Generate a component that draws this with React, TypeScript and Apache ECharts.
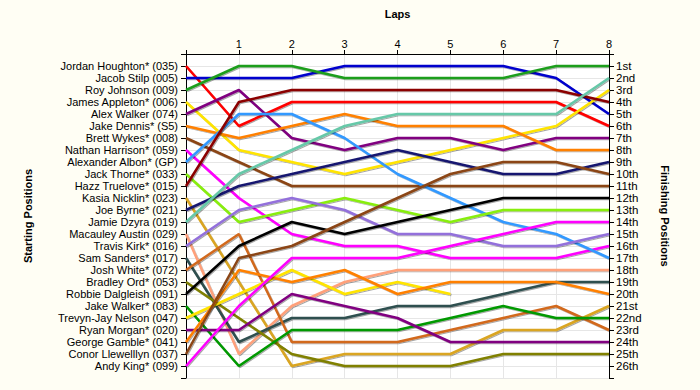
import React, { useEffect, useRef } from "react";
import * as echarts from "echarts";

const laps = [0, 1, 2, 3, 4, 5, 6, 7, 8];

const drivers = [
  "Jordan Houghton* (035)",
  "Jacob Stilp (005)",
  "Roy Johnson (009)",
  "James Appleton* (006)",
  "Alex Walker (074)",
  "Jake Dennis* (S5)",
  "Brett Wykes* (008)",
  "Nathan Harrison* (059)",
  "Alexander Albon* (GP)",
  "Jack Thorne* (033)",
  "Hazz Truelove* (015)",
  "Kasia Nicklin* (023)",
  "Joe Byrne* (021)",
  "Jamie Dzyra (019)",
  "Macauley Austin (029)",
  "Travis Kirk* (016)",
  "Sam Sanders* (017)",
  "Josh White* (072)",
  "Bradley Ord* (053)",
  "Robbie Dalgleish (091)",
  "Jake Walker* (083)",
  "Trevyn-Jay Nelson (047)",
  "Ryan Morgan* (020)",
  "George Gamble* (041)",
  "Conor Llewelllyn (037)",
  "Andy King* (099)",
];

const finishLabels = [
  "1st", "2nd", "3rd", "4th", "5th", "6th", "7th", "8th", "9th", "10th",
  "11th", "12th", "13th", "14th", "15th", "16th", "17th", "18th", "19th", "20th",
  "21st", "22nd", "23rd", "24th", "25th", "26th",
];

// positions per driver for laps 0..8
const positions: number[][] = [
  [1, 6, 4, 4, 4, 4, 4, 4, 6],
  [2, 2, 2, 1, 1, 1, 1, 2, 5],
  [3, 1, 1, 2, 2, 2, 2, 1, 1],
  [4, 8, 9, 10, 9, 8, 7, 6, 3],
  [5, 3, 7, 8, 7, 7, 8, 7, 7],
  [6, 7, 6, 5, 6, 6, 6, 8, 8],
  [7, 9, 11, 11, 11, 11, 11, 11, 11],
  [8, 12, 15, 16, 16, 17, 17, 17, 16],
  [9, 5, 5, 7, 10, 12, 14, 15, 17],
  [10, 14, 13, 12, 13, 14, 13, 13, 13],
  [11, 4, 3, 3, 3, 3, 3, 3, 4],
  [12, 19, 26, 25, 25, 25, 23, 23, 21],
  [13, 11, 10, 9, 8, 9, 10, 10, 9],
  [14, 10, 8, 6, 5, 5, 5, 5, 2],
  [15, 25, 21, 19, 18, 18, 18, 18, 18],
  [16, 13, 12, 13, 15, 15, 16, 16, 15],
  [17, 24, 22, 22, 21, 21, 20, 19, 19],
  [18, 15, 24, 24, 24, 23, 22, 21, 23],
  [19, 22, 25, 26, 26, 26, 25, 25, 25],
  [20, 16, 14, 15, 14, 13, 12, 12, 12],
  [21, 26, 23, 23, 23, 22, 21, 22, 22],
  [22, 20, 18, 20, 19, 20],
  [23, 23, 20, 21, 22, 24, 24, 24, 24],
  [24, 18, 19, 18, 20, 19, 19, 19, 20],
  [25, 17, 16, 14, 12, 10, 9, 9, 10],
  [26, 21, 17, 17, 17, 16, 15, 14, 14],
];

const colors = [
  "#FF0000", "#0000CD", "#1E9E1E", "#FFE400", "#800080", "#FF8000",
  "#8B4513", "#FF00FF", "#3399FF", "#88EE11", "#8B0000", "#DAA520",
  "#191970", "#66C8A8", "#FFA07A", "#9370DB", "#2F4F4F", "#D2691E",
  "#808000", "#000000", "#009900", "#FFE400", "#800080", "#FF8000",
  "#8B4513", "#FF00FF",
];

const FONT = "Liberation Sans";

export default function App() {
  const ref = useRef<HTMLDivElement>(null);
  useEffect(() => {
    if (!ref.current) return;
    const chart = echarts.init(ref.current, undefined, { renderer: "svg" });
    const series = positions.map((row, i) => ({
      type: "line",
      name: drivers[i],
      data: row.map((p, k) => [laps[k], p]),
      symbol: "none",
      lineStyle: {
        color: colors[i],
        width: 2.5,
        shadowColor: "rgba(0,0,0,0.35)",
        shadowOffsetX: 1,
        shadowOffsetY: 1,
        shadowBlur: 1,
      },
      itemStyle: { color: colors[i] },
      clip: false,
      z: 2,
    }));
    chart.setOption({
      animation: false,
      backgroundColor: "#FFFEF4",
      textStyle: { fontFamily: FONT },
      grid: {
        left: 186,
        top: 54,
        right: 91,
        bottom: 12,
        show: true,
        backgroundColor: "#FFFFFF",
        borderWidth: 0,
      },
      xAxis: {
        type: "value",
        position: "top",
        min: 0,
        max: 8,
        interval: 1,
        name: "Laps",
        nameLocation: "middle",
        nameGap: 35,
        nameTextStyle: { fontWeight: "bold", fontSize: 11, color: "#000", fontFamily: FONT },
        axisLine: { show: true, lineStyle: { color: "#000", width: 1 } },
        axisTick: { show: true, length: 4, lineStyle: { color: "#000" } },
        axisLabel: {
          margin: 5,
          fontSize: 11,
          color: "#000",
          fontFamily: FONT,
          formatter: (v: number) => (v === 0 ? "" : String(v)),
        },
        splitLine: { show: true, lineStyle: { color: "#E6E6E6", width: 1 } },
      },
      yAxis: [
        {
          type: "value",
          position: "left",
          inverse: true,
          min: 0,
          max: 27,
          interval: 1,
          name: "Starting Positions",
          nameLocation: "middle",
          nameGap: 153,
          nameRotate: 90,
          nameTextStyle: { fontWeight: "bold", fontSize: 11, color: "#000", fontFamily: FONT },
          axisLine: { show: true, onZero: false, lineStyle: { color: "#000", width: 1 } },
          axisTick: { show: true, length: 5, lineStyle: { color: "#000" } },
          axisLabel: {
            margin: 8,
            fontSize: 11,
            lineHeight: 11,
            color: "#000",
            fontFamily: FONT,
            showMinLabel: true,
            showMaxLabel: true,
            formatter: (v: number) => drivers[v - 1] || "",
          },
          splitLine: { show: true, lineStyle: { color: "#E6E6E6", width: 1 } },
        },
        {
          type: "value",
          position: "right",
          inverse: true,
          min: 0,
          max: 27,
          interval: 1,
          name: "Finishing Positions",
          nameLocation: "middle",
          nameGap: 50,
          nameRotate: -90,
          nameTextStyle: { fontWeight: "bold", fontSize: 11, color: "#000", fontFamily: FONT },
          axisLine: { show: true, onZero: false, lineStyle: { color: "#000", width: 1 } },
          axisTick: { show: true, length: 5, lineStyle: { color: "#000" } },
          axisLabel: {
            margin: 7,
            fontSize: 11.5,
            lineHeight: 11,
            color: "#000",
            fontFamily: FONT,
            showMinLabel: true,
            showMaxLabel: true,
            formatter: (v: number) => finishLabels[v - 1] || "",
          },
          splitLine: { show: false },
        },
      ],
      series,
    });
    return () => chart.dispose();
  }, []);
  return (
    <div
      ref={ref}
      style={{ position: "fixed", left: 0, top: 0, width: 700, height: 390 }}
    />
  );
}
